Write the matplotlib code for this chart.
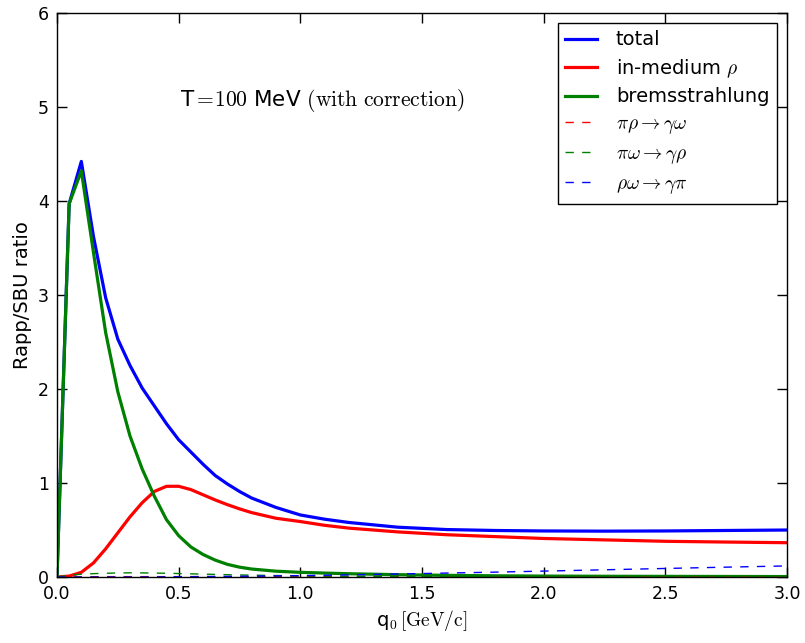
import matplotlib
matplotlib.use("Agg")
import matplotlib.pyplot as plt

plt.rcParams['mathtext.fontset'] = 'cm'
plt.rcParams['font.family'] = ['DejaVu Sans']

# q0 grid [GeV/c]
q0 = [0.0, 0.05, 0.1, 0.15, 0.2, 0.25, 0.3, 0.35, 0.4, 0.45, 0.5, 0.55, 0.6, 0.65, 0.7,
      0.75, 0.8, 0.9, 1.0, 1.1, 1.2, 1.4, 1.6, 1.8, 2.0, 2.25, 2.5, 2.75, 3.0]

total = [0.0, 3.97, 4.42, 3.62, 2.97, 2.53, 2.25, 2.01, 1.82, 1.63, 1.46, 1.33, 1.20, 1.08, 0.99,
         0.91, 0.84, 0.74, 0.66, 0.615, 0.58, 0.53, 0.505, 0.495, 0.49, 0.488, 0.49, 0.495, 0.50]

in_medium_rho = [0.0, 0.01, 0.05, 0.15, 0.30, 0.47, 0.64, 0.79, 0.91, 0.965, 0.965, 0.93, 0.875, 0.82, 0.77,
                 0.725, 0.685, 0.625, 0.59, 0.55, 0.52, 0.48, 0.45, 0.43, 0.41, 0.395, 0.38, 0.372, 0.365]

brems = [0.0, 3.97, 4.32, 3.45, 2.60, 1.97, 1.50, 1.15, 0.86, 0.61, 0.44, 0.32, 0.24, 0.18, 0.135,
         0.105, 0.085, 0.062, 0.05, 0.042, 0.035, 0.025, 0.018, 0.013, 0.01, 0.008, 0.007, 0.006, 0.005]

pirho_gomega = [0.0, 0.001, 0.002, 0.003, 0.004, 0.004, 0.004, 0.004, 0.004, 0.004, 0.004, 0.004, 0.004, 0.004, 0.004,
                0.004, 0.004, 0.004, 0.004, 0.004, 0.004, 0.004, 0.004, 0.004, 0.004, 0.004, 0.004, 0.004, 0.004]

piomega_grho = [0.0, 0.02, 0.03, 0.036, 0.04, 0.043, 0.045, 0.044, 0.042, 0.04, 0.037, 0.034, 0.031, 0.028, 0.025,
                0.022, 0.02, 0.016, 0.012, 0.01, 0.008, 0.006, 0.004, 0.003, 0.002, 0.002, 0.001, 0.001, 0.001]

rhoomega_gpi = [0.0, 0.0, 0.0, 0.0, 0.0, 0.0, 0.0, 0.0, 0.001, 0.002, 0.003, 0.004, 0.005, 0.006, 0.007,
                0.008, 0.009, 0.012, 0.015, 0.019, 0.023, 0.032, 0.042, 0.052, 0.063, 0.077, 0.091, 0.105, 0.118]

fig = plt.figure(figsize=(8.05, 6.43), dpi=100)
ax = fig.add_axes([0.0708, 0.1026, 0.9068, 0.8774])

dash = (0, (6, 6))
ax.plot(q0, total, color='#0000ff', lw=2.3, label='total')
ax.plot(q0, in_medium_rho, color='#ff0000', lw=2.3, label=r'in-medium $\rho$')
ax.plot(q0, brems, color='#008000', lw=2.3, label='bremsstrahlung')
ax.plot(q0, pirho_gomega, color='#ff0000', lw=1.0, ls=dash, label=r'$\pi\rho\rightarrow\gamma\omega$')
ax.plot(q0, piomega_grho, color='#008000', lw=1.0, ls=dash, label=r'$\pi\omega\rightarrow\gamma\rho$')
ax.plot(q0, rhoomega_gpi, color='#0000ff', lw=1.0, ls=dash, label=r'$\rho\omega\rightarrow\gamma\pi$')

ax.set_xlim(0, 3.0)
ax.set_ylim(0, 6)
ax.set_xticks([0.0, 0.5, 1.0, 1.5, 2.0, 2.5, 3.0])
ax.set_yticks([0, 1, 2, 3, 4, 5, 6])
ax.tick_params(direction='in', top=True, right=True, length=7, width=1, labelsize=12.5, pad=6)
for s in ax.spines.values():
    s.set_linewidth(1.0)

ax.set_xlabel(r'q$_0\,[\mathrm{GeV/c}]$', fontsize=14, labelpad=3)
ax.set_ylabel('Rapp/SBU ratio', fontsize=14, labelpad=4)

ax.text(1.09, 5.07, r'T$=\!100$ MeV $\mathrm{(with\ correction)}$', fontsize=15.5,
        ha='center', va='center')

leg = ax.legend(loc='upper right', fontsize=14, fancybox=False, framealpha=1,
                edgecolor='black', handlelength=1.6, handletextpad=1.0,
                borderaxespad=0.5, labelspacing=0.4, borderpad=0.4)
leg.get_frame().set_linewidth(1.0)

fig.savefig('out.png', dpi=100)
